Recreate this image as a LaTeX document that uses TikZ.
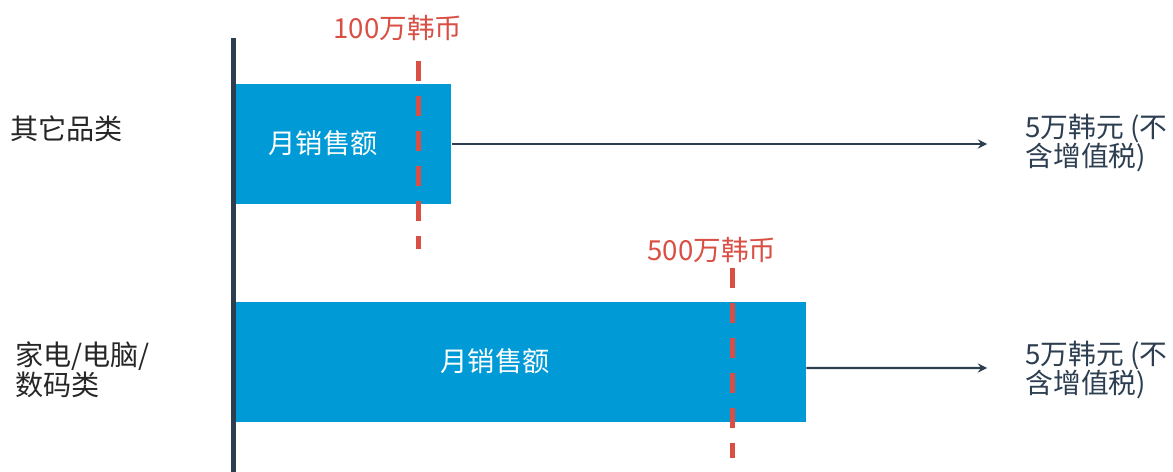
\documentclass[tikz,border=0pt]{standalone}
\usepackage{fontspec}
\setmainfont{Noto Sans CJK SC}
\usepackage{tikz}

\definecolor{barblue}{RGB}{0,155,214}
\definecolor{axisdark}{RGB}{44,62,80}
\definecolor{limitred}{RGB}{217,79,68}

\begin{document}
\begin{tikzpicture}[x=0.02cm,y=-0.02cm,>=stealth,semithick]
  \tikzstyle{bar}=[rectangle,fill=barblue,inner sep=0pt,minimum height=2.4cm]
  \tikzstyle{bartext}=[text=white,font=\fontsize{15.5}{18}\selectfont]
  \tikzstyle{cat}=[anchor=west,align=left,inner sep=0pt,text=black!85,font=\fontsize{16}{17}\selectfont]
  \tikzstyle{fee}=[anchor=west,align=left,inner sep=0pt,text=axisdark,font=\fontsize{15.8}{17}\selectfont]
  \tikzstyle{limit}=[text=limitred,font=\fontsize{15.7}{18}\selectfont]
  \tikzstyle{limitline}=[draw=limitred,line width=0.1cm,dash pattern=on 0.4cm off 0.3cm]
  \useasboundingbox (0,0) rectangle (1173,472);

  % categories
  \node [cat] (c1) at (10,129) {其它品类};
  \node [cat] (c2) at (15,370) {家电/电脑/\\数码类};

  % axis
  \coordinate (top) at (233,38);
  \coordinate (bot) at (233,472);
  \draw [axisdark,line width=0.1cm] (top) -- (bot);

  % bars
  \node [bar,minimum width=4.3cm] (b1) at (343.5,144) {};
  \node [bartext] (t1) at (323,143) {月销售额};
  \node [bar,minimum width=11.4cm] (b2) at (521,362) {};
  \node [bartext] (t2) at (495,361) {月销售额};

  % fees
  \node [fee] (f1) at (1025,143) {5万韩元 (不\\含增值税)};
  \node [fee] (f2) at (1025,370) {5万韩元 (不\\含增值税)};
  \coordinate (e1) at (987,144);
  \coordinate (e2) at (987,368);
  \draw [->,axisdark,line width=1.3pt] (b1.east) -- (e1);
  \draw [->,axisdark,line width=1.3pt] ([yshift=-0.12cm]b2.east) -- (e2);

  % limits
  \coordinate (l1a) at (418,61);
  \coordinate (l1b) at (418,249);
  \coordinate (l2a) at (732,268);
  \coordinate (l2b) at (732,458);
  \draw [limitline] (l1a) -- (l1b);
  \draw [limitline] (l2a) -- (l2b);
  \node [limit] (m1) at (398,28) {100万韩币};
  \node [limit] (m2) at (712,250) {500万韩币};
\end{tikzpicture}
\end{document}
